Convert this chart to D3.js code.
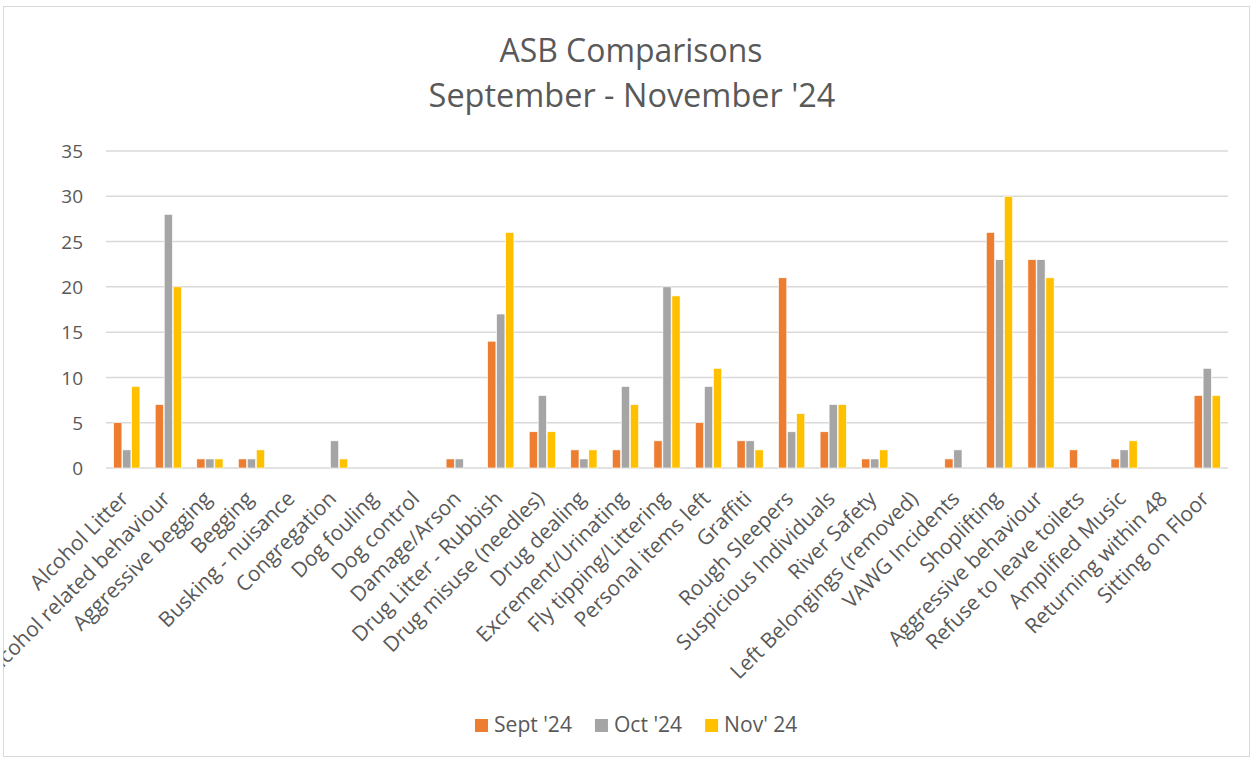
<!DOCTYPE html>
<html><head><meta charset="utf-8">
<script src="https://cdn.jsdelivr.net/npm/d3@7"></script>
<style>body{margin:0;background:#fff}svg{display:block}text{font-family:"Open Sans",sans-serif;fill:#595959}</style>
</head><body>
<script>
const categories = ["Alcohol Litter","Alcohol related behaviour","Aggressive begging","Begging","Busking - nuisance","Congregation","Dog fouling","Dog control","Damage/Arson","Drug Litter - Rubbish","Drug misuse (needles)","Drug dealing","Excrement/Urinating","Fly tipping/Littering","Personal items left","Graffiti","Rough Sleepers","Suspicious Individuals","River Safety","Left Belongings (removed)","VAWG Incidents","Shoplifting","Aggressive behaviour","Refuse to leave toilets","Amplified Music","Returning within 48","Sitting on Floor"];
const seriesNames = ["Sept '24","Oct '24","Nov' 24"];
const sept = [5,7,1,1,0,0,0,0,1,14,4,2,2,3,5,3,21,4,1,0,1,26,23,2,1,0,8];
const oct  = [2,28,1,1,0,3,0,0,1,17,8,1,9,20,9,3,4,7,1,0,2,23,23,0,2,0,11];
const nov  = [9,20,1,2,0,1,0,0,0,26,4,2,7,19,11,2,6,7,2,0,0,30,21,0,3,0,8];
const yTicks = [0,5,10,15,20,25,30,35];
const titleLines = ["ASB Comparisons","September - November '24"];
const colors = ["#ED7D31","#A5A5A5","#FFC000"];
const seriesValues = [sept, oct, nov];

const W = 1253, H = 760;
const svg = d3.select("body").append("svg").attr("width", W).attr("height", H);
svg.append("defs").append("clipPath").attr("id","chartClip")
  .append("rect").attr("x",3.5).attr("y",6.5).attr("width",1246).attr("height",750);
svg.append("rect").attr("x",3.5).attr("y",6.5).attr("width",1246).attr("height",750)
  .attr("fill","#fff").attr("stroke","#D9D9D9").attr("stroke-width",1);
const root = svg.append("g").attr("clip-path","url(#chartClip)");

const y = d3.scaleLinear().domain([0,35]).range([468,151]);
const x0 = d3.scaleBand().domain(categories).range([106,1228]).padding(0);
const groupW = x0.bandwidth()*0.65;
const x1 = d3.scaleBand().domain(seriesNames).range([0,groupW]).padding(0);

function fit(sel, target){
  const w = sel.node().getComputedTextLength();
  const fs = parseFloat(sel.attr("font-size"));
  sel.attr("font-size", fs*target/w);
}

// gridlines
root.append("g").selectAll("line").data(yTicks).join("line")
  .attr("x1",106).attr("x2",1228).attr("y1",d=>y(d)).attr("y2",d=>y(d))
  .attr("stroke","#D9D9D9").attr("stroke-width",1.5);

// y axis labels
const yAxis = d3.axisLeft(y).tickValues(yTicks).tickSize(0).tickPadding(0);
const gy = root.append("g").attr("transform","translate(83,0)").call(yAxis);
gy.select(".domain").remove();
gy.selectAll("text").attr("font-size",19).attr("fill","#595959").attr("dy","0.35em")
  .style("font-family","'Open Sans',sans-serif");

// bars
const groups = root.append("g").selectAll("g").data(categories).join("g")
  .attr("transform", c => `translate(${x0(c)+(x0.bandwidth()-groupW)/2},0)`);
groups.selectAll("rect").data((c,i)=>seriesNames.map((s,j)=>({s, v:seriesValues[j][i], j})))
  .join("rect")
  .attr("x", d=>x1(d.s)+0.4).attr("width", x1.bandwidth()-0.8)
  .attr("y", d=>y(d.v)).attr("height", d=>y(0)-y(d.v))
  .attr("fill", d=>colors[d.j]).attr("stroke","#fff").attr("stroke-width",0.6)
  .attr("opacity", d=>d.v>0?1:0);

// x axis labels
const lbls = root.append("g").selectAll("text").data(categories).join("text")
  .attr("text-anchor","end").attr("font-size",100)
  .attr("transform", c=>`translate(${x0(c)+x0.bandwidth()/2+3},500) rotate(-45)`)
  .text(c=>c);
const calib = lbls.filter(c=>c==="Alcohol Litter");
const fsL = 100*129/calib.node().getComputedTextLength();
lbls.attr("font-size", fsL);

// title
const t1 = root.append("text").attr("x",631).attr("y",62).attr("text-anchor","middle").attr("font-size",28).text(titleLines[0]);
fit(t1,263);
const t2 = root.append("text").attr("x",632).attr("y",107).attr("text-anchor","middle").attr("font-size",28).text(titleLines[1]);
fit(t2,407);

// legend
const items = root.append("g").selectAll("g").data(seriesNames).join("g");
items.append("rect").attr("width",13).attr("height",13).attr("y",719).attr("fill",(d,i)=>colors[i]);
const lt = items.append("text").attr("y",732).attr("font-size",20).text(d=>d);
const lfs = 20*78/lt.filter(d=>d==="Sept '24").node().getComputedTextLength();
lt.attr("font-size",lfs);
let cx = 475;
items.each(function(d){
  const g = d3.select(this);
  g.select("rect").attr("x",cx);
  g.select("text").attr("x",cx+19);
  cx += 19 + g.select("text").node().getComputedTextLength() + 23;
});
</script>
</body></html>
